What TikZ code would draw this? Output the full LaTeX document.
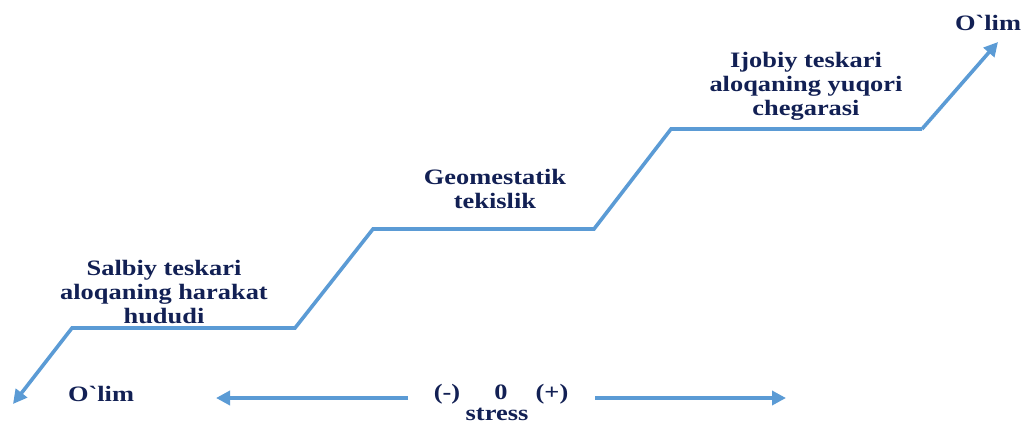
\documentclass[tikz,border=0pt]{standalone}
\usepackage{fontspec}
\setmainfont{Liberation Serif}
\newfontfamily\lblfont[FakeStretch=1.2]{Liberation Serif}
\usetikzlibrary{arrows.meta}
\definecolor{linecol}{RGB}{91,155,213}
\definecolor{txtcol}{RGB}{18,32,84}
\tikzset{
  curve/.style={draw=linecol, line width=3.6pt, line join=miter, -{Triangle[length=14pt,width=14pt]}},
  lbl/.style={text=txtcol, font=\lblfont\bfseries\fontsize{22}{24}\selectfont, align=center, inner sep=0pt, anchor=base},
}
\begin{document}
\begin{tikzpicture}[x=1pt,y=-1pt]
\useasboundingbox (0,0) rectangle (1024,423);
% stepped curve
\coordinate (s0) at (13,404);
\coordinate (s1) at (72,328);
\coordinate (s2) at (295,328);
\coordinate (s3) at (373,229);
\coordinate (s4) at (594,229);
\coordinate (s5) at (671,129);
\coordinate (s6) at (922,129);
\coordinate (s7) at (998,42);
\draw[curve] (s6) -- (s5) -- (s4) -- (s3) -- (s2) -- (s1) -- (s0);
\draw[curve] (s6) -- (s7);
% labels
\node[lbl] (neg) at (164,323) {Salbiy teskari\\aloqaning harakat\\hududi};
\node[lbl] (geo) at (495,208) {Geomestatik\\tekislik};
\node[lbl] (pos) at (806,115) {Ijobiy teskari\\aloqaning yuqori\\chegarasi};
\node[lbl] (dtop) at (988,30) {O`lim};
\node[lbl] (dbot) at (101,401) {O`lim};
\node[lbl] (minus) at (447,399) {(-)};
\node[lbl] (zero) at (501,399) {0};
\node[lbl] (plus) at (552,399) {(+)};
\node[lbl] (stress) at (497,420) {stress};
% stress axis
\coordinate (la) at (408,398);
\coordinate (lb) at (216,398);
\coordinate (ra) at (595,398);
\coordinate (rb) at (786,398);
\draw[curve] (la) -- (lb);
\draw[curve] (ra) -- (rb);
\end{tikzpicture}
\end{document}
